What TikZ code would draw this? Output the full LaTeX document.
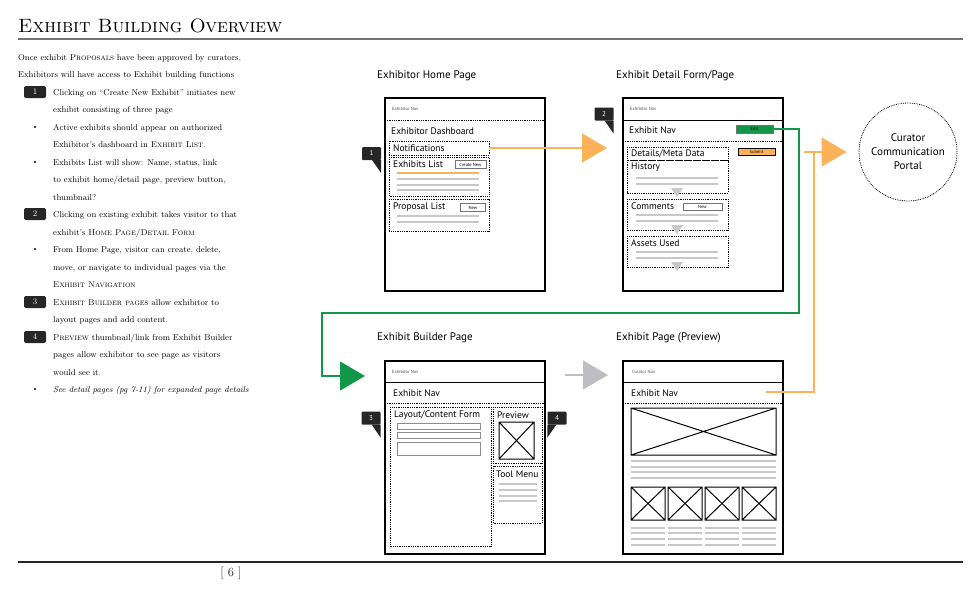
\documentclass[tikz,border=0pt]{standalone}
\usepackage{fontspec}
\usepackage{tikz}
\usetikzlibrary{arrows.meta,calc}
\newfontfamily\wfsans{PT Sans}
\definecolor{wforange}{RGB}{252,178,88}
\definecolor{wfgreen}{RGB}{18,150,72}
\definecolor{wfgray}{RGB}{200,200,200}
\definecolor{wfarrow}{RGB}{190,190,194}

\begin{document}
\begin{tikzpicture}[x=1pt,y=-1pt,
    frame/.style={draw, line width=1.1pt, minimum width=160pt, minimum height=193pt, anchor=north west, inner sep=0pt, outer sep=0pt},
    dotbox/.style={draw, line width=0.8pt, densely dotted},
    fillbar/.style={wfgray, line width=2.2pt},
    wtext/.style={font=\wfsans\fontsize{9.5}{10}\selectfont, anchor=west, inner sep=0pt},
    tinytext/.style={font=\wfsans\fontsize{4.5}{5}\selectfont, text=black!70, anchor=west, inner sep=0pt},
    heading/.style={font=\wfsans\fontsize{11}{12}\selectfont, anchor=west, inner sep=0pt},
    btn/.style={draw=black!55, line width=0.7pt, fill=white, inner sep=0pt, font=\wfsans\fontsize{4.5}{5}\selectfont},
    tag/.style={fill=black!85, text=white, rounded corners=1pt, minimum width=19pt, minimum height=13pt, inner sep=0pt, font=\wfsans\fontsize{7}{7}\selectfont},
    numtag/.style={fill=black!85, text=white, rounded corners=2pt, minimum width=22pt, minimum height=12pt, inner sep=0pt, font=\fontsize{8.5}{9}\selectfont},
    body/.style={anchor=base west, inner sep=0pt, font=\fontsize{8.5}{11}\selectfont},
    xbox/.style={draw, line width=1pt},
    flow/.style={line width=1.2pt, -{Triangle[width=29pt,length=25pt]}}
  ]
    \useasboundingbox (0,0) rectangle (980,595);

    \node[anchor=base west, inner sep=0pt, font=\fontsize{19.3}{22}\selectfont] (title) at (18,32) {\textsc{Exhibit Building Overview}};
    \draw[black!55, line width=1.6pt] (18,39) -- (963,39);
    \draw[black!85, line width=1.4pt] (18,562) -- (963,562);
    \node[inner sep=0pt, text=black!85, font=\fontsize{12.5}{13}\selectfont] (pageno) at (231,573) {[\ 6\ ]};

    \node[body] (t1) at (18,60) {Once exhibit \textsc{Proposals} have been approved by curators,};
    \node[body] (t2) at (18,77) {Exhibitors will have access to Exhibit building functions};
    \node[body] (t3) at (53,95) {Clicking on “Create New Exhibit” initiates new};
    \node[body] (t4) at (53,112) {exhibit consisting of three page};
    \node[body] (t5) at (53,130) {Active exhibits should appear on authorized};
    \node[body] (t6) at (53,147) {Exhibitor’s dashboard in \textsc{Exhibit List}.};
    \node[body] (t7) at (53,165) {Exhibits List will show: Name, status, link};
    \node[body] (t8) at (53,182) {to exhibit home/detail page, preview button,};
    \node[body] (t9) at (53,200) {thumbnail?};
    \node[body] (t10) at (53,217) {Clicking on existing exhibit takes visitor to that};
    \node[body] (t11) at (53,235) {exhibit’s \textsc{Home Page/Detail Form}};
    \node[body] (t12) at (53,252) {From Home Page, visitor can create, delete,};
    \node[body] (t13) at (53,270) {move, or navigate to individual pages via the};
    \node[body] (t14) at (53,287) {\textsc{Exhibit Navigation}};
    \node[body] (t15) at (53,305) {\textsc{Exhibit Builder pages} allow exhibitor to};
    \node[body] (t16) at (53,322) {layout pages and add content.};
    \node[body] (t17) at (53,340) {\textsc{Preview} thumbnail/link from Exhibit Builder};
    \node[body] (t18) at (53,357) {pages allow exhibitor to see page as visitors};
    \node[body] (t19) at (53,375) {would see it.};
    \node[body] (t20) at (53,392) {\textit{See detail pages (pg 7-11) for expanded page details}};
    \foreach \n/\y in {1/92, 2/214, 3/302, 4/337} \node[numtag] (n\n) at (35,\y) {\n};
    \foreach \y in {127,162,249,389} \fill (35,\y) circle (1.1);

    % exhibitor home page
    \node[heading] (hhome) at (377,76) {Exhibitor Home Page};
    \node[frame] (home) at (385,98) {};
    \draw[dotbox] (385,120) -- (545,120);
    \node[tinytext] (hnav) at (392,109) {Exhibitor Nav};
    \node[wtext] (hdash) at (391,131) {Exhibitor Dashboard};
    \node[dotbox, anchor=north west, minimum width=100pt, minimum height=14pt, inner sep=0pt, outer sep=0pt] (notif) at (389,141) {};
    \node[wtext] (notiftxt) at (393,148) {Notifications};
    \draw[dotbox] (389,157) rectangle (489,196);
    \node[wtext] (exlist) at (393,164) {Exhibits List};
    \node[btn, minimum width=31pt, minimum height=8pt] (create) at (470.5,164.5) {Create New};
    \draw[wforange, line width=2.4pt] (397,173) -- (479,173);
    \foreach \y in {179,185,190} \draw[fillbar] (397,\y) -- (479,\y);
    \draw[dotbox] (389,199) rectangle (489,231);
    \node[wtext] (proplist) at (393,207) {Proposal List};
    \node[btn, minimum width=25pt, minimum height=8pt] (newprop) at (473,207.5) {New};
    \foreach \y in {216,222} \draw[fillbar] (397,\y) -- (479,\y);

    % exhibit detail form
    \node[heading] (hdetail) at (616,76) {Exhibit Detail Form/Page};
    \node[frame] (detail) at (623,98) {};
    \draw[line width=0.8pt] (623,120) -- (784,120);
    \draw[dotbox] (623,141) -- (784,141);
    \node[tinytext] (dnav) at (630,109) {Exhibitor Nav};
    \node[wtext] (dexnav) at (629,130) {Exhibit Nav};
    \node[btn, fill=wfgreen, minimum width=37pt, minimum height=8pt] (edit) at (754.5,129) {Edit};
    \node[btn, draw=black, fill=wforange, minimum width=37pt, minimum height=7pt] (submit) at (756.5,151.5) {Submit};
    \draw[dotbox] (627,147) rectangle (728,160);
    \node[wtext] (meta) at (631,154) {Details/Meta Data};
    \foreach \t/\ya/\yb [count=\k] in {History/160/193, Comments/199/230, Assets Used/236/267} {
        \draw[dotbox] (627,\ya) rectangle (728,\yb);
        \node[wtext] (sec\k) at (631,\ya+7.5) {\t};
        \draw[fillbar] (636,\yb-15) -- (718,\yb-15); \draw[fillbar] (636,\yb-9) -- (718,\yb-9);
        \fill[wfgray] (671,\yb-5) -- (683,\yb-5) -- (677,\yb+4) -- cycle;
    }
    \node[btn, minimum width=39pt, minimum height=7pt] (newcom) at (702.5,206.5) {New};

    % exhibit builder page
    \node[heading] (hbuilder) at (377,338) {Exhibit Builder Page};
    \node[frame] (builder) at (385,361) {};
    \draw[line width=0.8pt] (385,382) -- (545,382);
    \draw[dotbox] (385,403) -- (545,403);
    \node[tinytext] (bnav) at (392,372) {Exhibitor Nav};
    \node[wtext] (bexnav) at (393,393) {Exhibit Nav};
    \draw[dotbox] (390,407) rectangle (491,546);
    \node[wtext] (layout) at (394,415) {Layout/Content Form};
    \draw[black!45, line width=1pt] (397,423) rectangle (480,429) (397,432) rectangle (480,438) (397,442) rectangle (480,455);
    \draw[dotbox] (493,407) rectangle (542,463);
    \node[wtext] (prevlbl) at (497,415) {Preview};
    \draw[xbox] (499,422) rectangle (534,459) -- (499,422) (499,459) -- (534,422);
    \draw[dotbox] (493,466) rectangle (542,523);
    \node[wtext] (tools) at (496,474) {Tool Menu};
    \foreach \y in {484,490,496,501} \draw[fillbar] (499,\y) -- (537,\y);

    % exhibit page preview
    \node[heading] (hpreview) at (616,338) {Exhibit Page (Preview)};
    \node[frame] (preview) at (623,361) {};
    \draw[line width=0.8pt] (623,382) -- (784,382);
    \draw[dotbox] (623,403) -- (784,403);
    \node[tinytext] (pnav) at (632,372) {Curator Nav};
    \node[wtext] (pexnav) at (631,393) {Exhibit Nav};
    \draw[xbox] (631,408) rectangle (776,455) -- (631,408) (631,455) -- (776,408);
    \foreach \y in {461,467,472,478} \draw[fillbar] (631,\y) -- (776,\y);
    \foreach \x in {631,668,705,742} {
        \draw[xbox] (\x,487) rectangle ++(34,33) -- ++(-34,-33) ++(0,33) -- ++(34,-33);
        \foreach \y in {528,533,539,545} \draw[fillbar] (\x,\y) -- ++(34,0);
    }

    \node[draw, densely dotted, line width=0.8pt, circle, minimum size=98pt, align=center, font=\wfsans\fontsize{11}{14}\selectfont] (portal) at (908,152) {Curator\\Communication\\Portal};

    \foreach \n/\p in {1/{371.5,153.5}, 2/{604,114}, 3/{371,418}} {
        \node[tag] (c\n) at (\p) {\n};
        \fill[black!85] (c\n.south east) -- ++(0,13) -- ([xshift=-9pt]c\n.south east) -- cycle;
    }
    \node[tag] (c4) at (557,418) {4};
    \fill[black!85] (c4.south west) -- ++(0,13) -- ([xshift=9pt]c4.south west) -- cycle;

    \coordinate (gin) at (365,376); \coordinate (gs) at (565,375); \coordinate (ge) at (608,375);
    \coordinate (pout) at (766,392); \coordinate (pup) at (804,152);
    \draw[flow, wforange] (notif.east) -- ([xshift=-16pt]detail.west |- notif.east);
    \draw[flow, wfgreen] (edit.east) -| (799,313) -| (322,350) -- (322,376) -- (gin);
    \draw[flow, wfarrow] (gs) -- (ge);
    \draw[wforange, line width=1.2pt] (pout) -| (814,152);
    \draw[flow, wforange] (pup) -- ([xshift=-12pt]portal.west);
\end{tikzpicture}
\end{document}
